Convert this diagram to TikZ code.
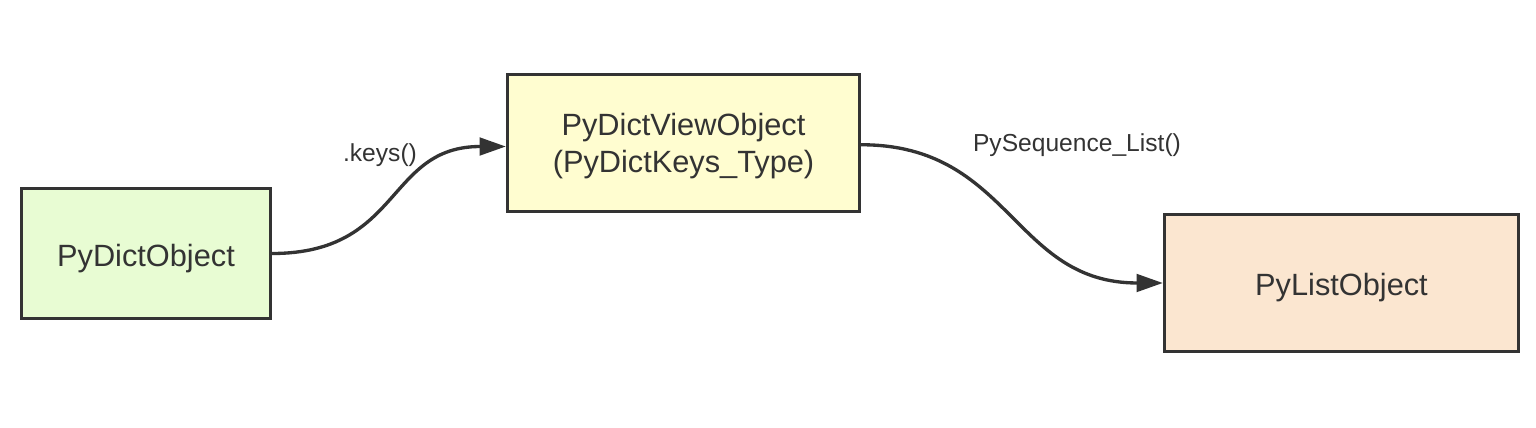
\documentclass[tikz,border=0pt]{standalone}
\usepackage{fontspec}
\setmainfont{Liberation Sans}
\usetikzlibrary{arrows.meta}
\definecolor{ink}{HTML}{333333}
\definecolor{greenfill}{HTML}{E8FCD3}
\definecolor{yellowfill}{HTML}{FFFDD0}
\definecolor{peachfill}{HTML}{FBE6D0}
\tikzset{
  box/.style={draw=ink, line width=1.9pt, text=ink, align=center,
    font=\fontsize{17.5}{20.8}\selectfont, inner sep=0pt},
  conn/.style={draw=ink, line width=1.9pt, -{Triangle[length=15pt,width=10pt]}},
  lbl/.style={text=ink, font=\fontsize{14}{16}\selectfont, inner sep=0pt}
}
\begin{document}
\begin{tikzpicture}[x=0.02cm,y=-0.02cm]
\useasboundingbox (0,0) rectangle (1536,428);
\node[box, fill=greenfill, minimum width=4.98cm, minimum height=2.6cm,
  text height=15pt, text depth=0pt] (a) at (146,253.5) {PyDictObject};
\node[box, fill=yellowfill, minimum width=7.04cm, minimum height=2.74cm,
  text height=33.6pt, text depth=0pt] (b) at (683.5,143) {PyDictViewObject\\(PyDictKeys\_Type)};
\node[box, fill=peachfill, minimum width=7.08cm, minimum height=2.74cm,
  text height=14.5pt, text depth=0.5pt] (c) at (1341.5,283) {PyListObject};
\draw[conn] (a.east) .. controls +(130,0) and +(-120,0) .. ([yshift=-2pt]b.west);
\draw[conn] ([yshift=-1pt]b.east) .. controls +(150,0) and +(-150,0) .. (c.west);
\node[lbl] (l1) at (380,155) {.keys()};
\node[lbl] (l2) at (1077,145) {PySequence\_List()};
\end{tikzpicture}
\end{document}
